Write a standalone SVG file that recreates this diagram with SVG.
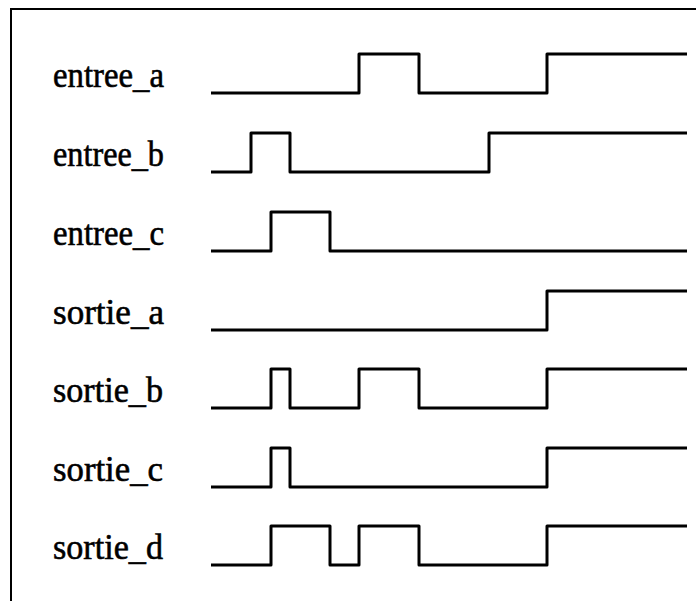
<svg xmlns="http://www.w3.org/2000/svg" width="696" height="601" viewBox="0 0 696 601">
  <style>
    .frame { fill: none; stroke: #000; stroke-width: 2; }
    .wave { fill: none; stroke: #000; stroke-width: 3; stroke-linejoin: round; }
    .label { font-family: "Liberation Serif", "Times New Roman", serif; font-size: 36px; fill: #000; stroke: #000; stroke-width: 0.6; }
  </style>
  <rect width="696" height="601" fill="#fff"/>
  <rect class="frame" x="11" y="9" width="700" height="610"/>

  <g id="labels">
    <text class="label" x="53" y="87" textLength="111" lengthAdjust="spacingAndGlyphs">entree_a</text>
    <text class="label" x="53" y="166" textLength="111" lengthAdjust="spacingAndGlyphs">entree_b</text>
    <text class="label" x="53" y="245" textLength="111" lengthAdjust="spacingAndGlyphs">entree_c</text>
    <text class="label" x="53" y="324" textLength="111" lengthAdjust="spacingAndGlyphs">sortie_a</text>
    <text class="label" x="53" y="402" textLength="110" lengthAdjust="spacingAndGlyphs">sortie_b</text>
    <text class="label" x="53" y="481" textLength="110" lengthAdjust="spacingAndGlyphs">sortie_c</text>
    <text class="label" x="53" y="559" textLength="110" lengthAdjust="spacingAndGlyphs">sortie_d</text>
  </g>

  <g id="waveforms">
    <path id="entree_a" class="wave" d="M211,93 H359 V54 H419 V93 H547 V54 H687"/>
    <path id="entree_b" class="wave" d="M211,172 H251 V133 H290 V172 H489 V133 H687"/>
    <path id="entree_c" class="wave" d="M211,251 H271 V212 H330 V251 H687"/>
    <path id="sortie_a" class="wave" d="M211,330 H547 V291 H687"/>
    <path id="sortie_b" class="wave" d="M211,408 H271 V369 H290 V408 H359 V369 H419 V408 H547 V369 H687"/>
    <path id="sortie_c" class="wave" d="M211,487 H271 V448 H290 V487 H547 V448 H687"/>
    <path id="sortie_d" class="wave" d="M211,565 H271 V526 H330 V565 H359 V526 H419 V565 H547 V526 H687"/>
  </g>
</svg>
